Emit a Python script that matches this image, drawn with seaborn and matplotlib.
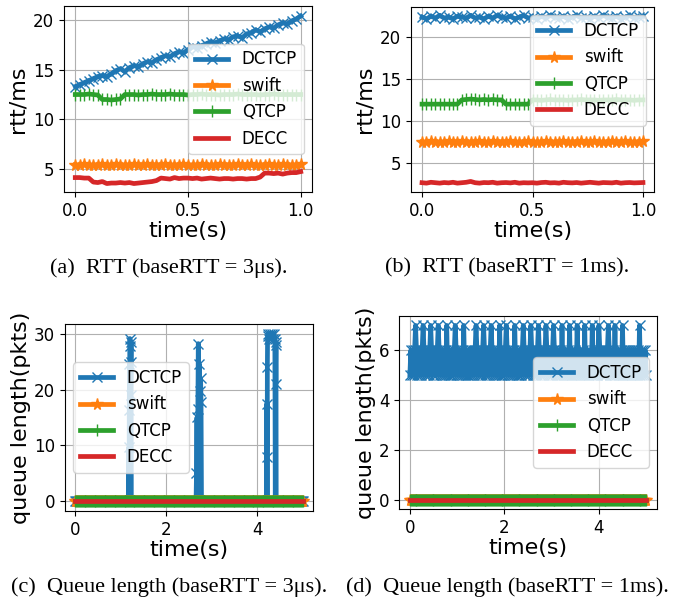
import numpy as np
import pandas as pd
import matplotlib
matplotlib.use("Agg")
import matplotlib.pyplot as plt
import seaborn as sns

# ---------------- data ----------------
series_names = ["DCTCP", "swift", "QTCP", "DECC"]
colors = ["#1f77b4", "#ff7f0e", "#2ca02c", "#d62728"]
markers = ["x", "*", "|", None]

# (a) RTT, baseRTT = 3us  (time 0..1 s)
rtt_a_dctcp = [13.3, 13.5, 13.7, 13.9, 14.1, 14.3, 14.4, 14.3, 14.6, 14.9, 15.1, 14.8, 15.2,
               15.4, 15.3, 15.6, 15.8, 15.7, 16.0, 16.2, 16.4, 16.3, 16.6, 16.8, 16.7, 17.0,
               17.3, 17.2, 17.4, 17.6, 17.8, 17.7, 17.9, 18.1, 18.0, 18.3, 18.4, 18.2, 18.6,
               18.7, 19.0, 18.8, 19.1, 19.3, 19.2, 19.5, 19.7, 19.6, 19.9, 20.1, 20.4]
rtt_a_swift = [5.45, 5.4, 5.5, 5.45, 5.4, 5.45, 5.5, 5.4, 5.45, 5.5, 5.45, 5.4, 5.45, 5.5,
               5.45, 5.4, 5.5, 5.45, 5.45, 5.4, 5.5, 5.45, 5.4, 5.45, 5.5, 5.45, 5.4, 5.45,
               5.5, 5.45, 5.4, 5.45, 5.5, 5.4, 5.45, 5.45, 5.5, 5.4, 5.45, 5.5, 5.45, 5.4,
               5.45, 5.5, 5.45, 5.4, 5.5, 5.45, 5.4, 5.45, 5.5]
rtt_a_qtcp = [12.5, 12.5, 12.5, 12.55, 12.5, 12.45, 12.0, 12.0, 11.95, 12.0, 12.05, 12.5,
              12.5, 12.5, 12.45, 12.5, 12.5, 12.55, 12.5, 12.5, 12.5, 12.55, 12.5, 12.5,
              12.5, 12.45, 12.5, 12.5, 12.55, 12.5, 12.5, 12.5, 12.45, 12.5, 12.5, 12.5,
              12.55, 12.5, 12.5, 12.5, 12.5, 12.45, 12.5, 12.5, 12.55, 12.5, 12.5, 12.5,
              12.5, 12.5, 12.5]
rtt_a_decc = [4.15, 4.15, 4.1, 4.1, 3.7, 3.65, 3.75, 3.55, 3.6, 3.6, 3.65, 3.6, 3.65, 3.55,
              3.6, 3.65, 3.7, 3.75, 3.85, 4.1, 4.05, 4.0, 4.15, 4.05, 4.1, 4.1, 4.05, 4.1,
              4.0, 4.05, 4.1, 4.05, 4.0, 4.05, 4.05, 4.0, 4.05, 4.05, 4.0, 4.05, 4.05, 4.2,
              4.6, 4.6, 4.55, 4.6, 4.5, 4.6, 4.65, 4.65, 4.75]

# (b) RTT, baseRTT = 1ms
rtt_b_dctcp = [22.3, 22.1, 22.4, 22.2, 22.5, 22.2, 22.3, 22.1, 22.4, 22.3, 22.2, 22.5, 22.2,
               22.3, 22.1, 22.4, 22.2, 22.5, 22.3, 22.2, 22.4, 22.1, 22.3, 22.5, 22.2, 22.3,
               22.1, 22.4, 22.2, 22.5, 22.3, 22.2, 22.4, 22.1, 22.3, 22.5, 22.2, 22.3, 22.1,
               22.4, 22.2, 22.5, 22.3, 22.2, 22.4, 22.1, 22.3, 22.5, 22.2, 22.3, 22.4]
rtt_b_swift = [7.55, 7.5, 7.6, 7.55, 7.5, 7.55, 7.6, 7.5, 7.55, 7.6, 7.55, 7.5, 7.55, 7.6,
               7.55, 7.5, 7.6, 7.55, 7.55, 7.5, 7.6, 7.55, 7.5, 7.55, 7.6, 7.55, 7.5, 7.55,
               7.6, 7.55, 7.5, 7.55, 7.6, 7.5, 7.55, 7.55, 7.6, 7.5, 7.55, 7.6, 7.55, 7.5,
               7.55, 7.6, 7.55, 7.5, 7.6, 7.55, 7.5, 7.55, 7.6]
rtt_b_qtcp = [12.0, 12.0, 12.0, 12.0, 12.0, 12.0, 12.0, 12.0, 12.0, 12.5, 12.55, 12.6, 12.55,
              12.5, 12.55, 12.5, 12.55, 12.5, 12.5, 12.0, 12.0, 12.0, 12.0, 12.0, 12.0, 12.5,
              12.5, 12.45, 12.5, 12.55, 12.5, 12.5, 12.5, 12.45, 12.5, 12.5, 12.55, 12.5,
              12.5, 12.5, 12.45, 12.5, 12.5, 12.5, 12.55, 12.5, 12.5, 12.5, 12.45, 12.5, 12.5]
rtt_b_decc = [2.7, 2.65, 2.75, 2.7, 2.65, 2.72, 2.68, 2.75, 2.65, 2.7, 2.75, 2.85, 2.7, 2.65,
              2.72, 2.7, 2.75, 2.65, 2.7, 2.72, 2.68, 2.75, 2.65, 2.7, 2.68, 2.7, 2.65, 2.72,
              2.75, 2.68, 2.7, 2.65, 2.75, 2.7, 2.68, 2.72, 2.65, 2.7, 2.75, 2.7, 2.65, 2.72,
              2.7, 2.68, 2.75, 2.65, 2.7, 2.72, 2.68, 2.7, 2.72]

# (c) queue length, baseRTT = 3us (time 0..5 s); samples every 0.02 s
q_grid = np.round(np.arange(0, 5.0001, 0.02), 3)
q_zero = 0  # swift / QTCP / DECC queue stays empty
# DCTCP bursts (time, pkts)
qc_burst_t = [1.170, 1.175, 1.180, 1.185, 1.190, 1.195, 1.200, 1.205, 1.210, 1.215, 1.220, 1.225, 1.230,
              2.655, 2.665, 2.675, 2.685, 2.695, 2.705, 2.715, 2.725, 2.735, 2.745, 2.755, 2.765, 2.775,
              4.205, 4.210, 4.215, 4.220, 4.225, 4.230, 4.250, 4.270, 4.290, 4.310, 4.330, 4.350,
              4.370, 4.390, 4.400, 4.405, 4.410, 4.415, 4.420]
qc_burst_v = [0, 9.7, 0, 16.3, 24.5, 0, 29.1, 27.7, 0, 19.0, 25.0, 28.5, 0,
              0, 5.0, 15.0, 0, 16.6, 28.2, 0, 24.6, 19.7, 0, 22.0, 17.8, 0,
              0, 8.0, 17.5, 0, 24.0, 29.5, 30.0, 29.0, 30.0, 29.5, 30.0, 29.0,
              30.0, 29.0, 0, 28.5, 21.0, 28.0, 0]
qc_burst_windows = [(1.165, 1.235), (2.65, 2.78), (4.20, 4.425)]

# (d) queue length, baseRTT = 1ms: DCTCP oscillates 5/6 pkts with peaks of 7
qd_dctcp_str = ("5656567656" "5656765656" "5676565656" "7656565657" "5656565676"
                "5656565756" "5656565656" "7656565676" "5656567656" "5656575656"
                "5676565656" "5756565656" "7656565676" "5656567656" "5656765656"
                "5676565656" "5756565657" "5656565756" "5656575656" "5657565656"
                "7656565656" "7656565756" "5656575656" "5656565656" "5657565656" "5")
qd_dctcp = [int(c) for c in qd_dctcp_str]

captions = ["(a)  RTT (baseRTT = 3\u03bcs).", "(b)  RTT (baseRTT = 1ms).",
            "(c)  Queue length (baseRTT = 3\u03bcs).", "(d)  Queue length (baseRTT = 1ms)."]

# ---------------- plotting ----------------
plt.rcParams["font.family"] = ["DejaVu Sans"]
fig = plt.figure(figsize=(6.76, 6.02), dpi=100)

W, H = 676.0, 602.0
def add_ax(l, t, r, b):
    return fig.add_axes([l / W, 1 - b / H, (r - l) / W, (b - t) / H])

ax_a = add_ax(64, 6, 312, 192)
ax_b = add_ax(411, 7, 654, 192)
ax_c = add_ax(65, 324, 313, 511)
ax_d = add_ax(399, 316, 657, 509)

LW = 3.4
MS = {"x": 7, "*": 8.5, "|": 8, None: 0}


def draw(ax, xs, ys, i):
    m = markers[i]
    kws = dict(x=np.asarray(xs, float), y=np.asarray(ys, float), ax=ax, color=colors[i],
               lw=LW, label=series_names[i], estimator=None, sort=False)
    if m is not None:
        kws.update(marker=m, ms=MS[m], mec=colors[i], mfc=colors[i], mew=1.0)
    else:
        kws.update(mew=0)
    sns.lineplot(**kws)


# (a)
for i, vals in enumerate([rtt_a_dctcp, rtt_a_swift, rtt_a_qtcp, rtt_a_decc]):
    draw(ax_a, np.linspace(0, 1, len(vals)), vals, i)
# (b)
for i, vals in enumerate([rtt_b_dctcp, rtt_b_swift, rtt_b_qtcp, rtt_b_decc]):
    draw(ax_b, np.linspace(0, 1, len(vals)), vals, i)

# (c)
keep = np.ones(len(q_grid), bool)
for lo, hi in qc_burst_windows:
    keep &= ~((q_grid >= lo) & (q_grid <= hi))
qc_df = pd.concat([pd.DataFrame({"t": q_grid[keep], "v": 0.0}),
                   pd.DataFrame({"t": qc_burst_t, "v": qc_burst_v})]).sort_values("t")
draw(ax_c, qc_df["t"].values, qc_df["v"].values, 0)
for i in (1, 2, 3):
    draw(ax_c, q_grid, np.full(len(q_grid), q_zero), i)

# (d)
draw(ax_d, np.linspace(0, 5, len(qd_dctcp)), qd_dctcp, 0)
for i in (1, 2, 3):
    draw(ax_d, q_grid, np.full(len(q_grid), q_zero), i)

TICK = 12
LAB = 16
for ax in (ax_a, ax_b, ax_c, ax_d):
    ax.grid(True, color="#b0b0b0", lw=0.8)
    ax.set_axisbelow(True)
    ax.tick_params(labelsize=TICK)
    ax.set_xlabel("time(s)", fontsize=LAB, labelpad=1)
    for s in ax.spines.values():
        s.set_color("black")

ax_a.set_ylabel("rtt/ms", fontsize=LAB)
ax_b.set_ylabel("rtt/ms", fontsize=LAB)
ax_c.set_ylabel("queue length(pkts)", fontsize=LAB, labelpad=2)
ax_d.set_ylabel("queue length(pkts)", fontsize=LAB, labelpad=2)

ax_a.set_xticks([0.0, 0.5, 1.0]); ax_b.set_xticks([0.0, 0.5, 1.0])
ax_a.set_yticks([5, 10, 15, 20]); ax_b.set_yticks([5, 10, 15, 20])
ax_c.set_xticks([0, 2, 4]); ax_d.set_xticks([0, 2, 4])
ax_c.set_yticks([0, 10, 20, 30]); ax_d.set_yticks([0, 2, 4, 6])
ax_a.set_ylim(2.7, 21.4)
ax_b.set_ylim(1.6, 23.5)
ax_c.set_ylim(-1.7, 31.7)
ax_d.set_ylim(-0.38, 7.38)
ax_c.set_xlim(-0.23, 5.23)
ax_d.set_xlim(-0.23, 5.23)

leg_kw = dict(fontsize=12, handlelength=2.0)
ax_a.legend(loc="center right", **leg_kw)
ax_b.legend(loc="upper right", **leg_kw)
ax_c.legend(loc="center left", **leg_kw)
ax_d.legend(loc="center right", **leg_kw)

cap_kw = dict(ha="center", va="center", fontsize=16, family=["Liberation Serif", "DejaVu Serif"])
fig.text(169 / W, 1 - 268 / H, captions[0], **cap_kw)
fig.text(507 / W, 1 - 268 / H, captions[1], **cap_kw)
fig.text(169 / W, 1 - 587 / H, captions[2], **cap_kw)
fig.text(507 / W, 1 - 587 / H, captions[3], **cap_kw)

fig.savefig("out.png", dpi=100)
